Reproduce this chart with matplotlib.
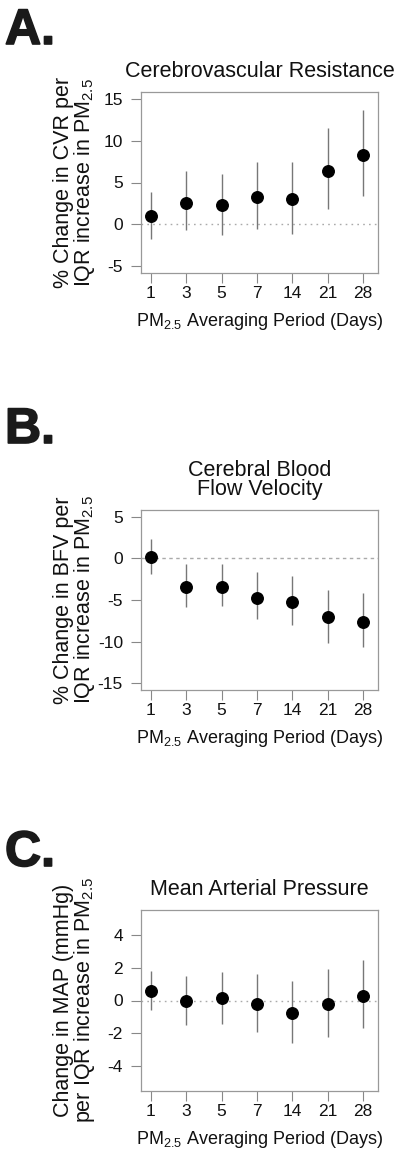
import matplotlib
matplotlib.use("Agg")
import matplotlib.pyplot as plt
import matplotlib.patheffects as pe

plt.rcParams['font.family'] = ['Liberation Sans', 'DejaVu Sans']
plt.rcParams['mathtext.fontset'] = 'custom'
plt.rcParams['mathtext.rm'] = 'Liberation Sans'
plt.rcParams['mathtext.it'] = 'Liberation Sans'

# averaging periods (days), plotted at equal spacing
periods = ['1', '3', '5', '7', '14', '21', '28']

# A. cerebrovascular resistance (% change)
cvr_est = [0.95, 2.6, 2.3, 3.3, 3.0, 6.4, 8.3]
cvr_lo = [-1.8, -0.7, -1.3, -0.5, -1.2, 1.85, 3.4]
cvr_hi = [3.9, 6.35, 6.0, 7.5, 7.5, 11.5, 13.6]

# B. cerebral blood flow velocity (% change)
bfv_est = [0.1, -3.4, -3.4, -4.8, -5.2, -7.1, -7.6]
bfv_lo = [-1.9, -5.8, -5.7, -7.3, -8.0, -10.2, -10.6]
bfv_hi = [2.3, -0.7, -0.7, -1.7, -2.1, -3.8, -4.2]

# C. mean arterial pressure (mmHg)
map_est = [0.6, 0.0, 0.15, -0.2, -0.75, -0.2, 0.3]
map_lo = [-0.6, -1.5, -1.4, -1.9, -2.6, -2.2, -1.7]
map_hi = [1.8, 1.5, 1.75, 1.6, 1.2, 1.9, 2.45]

W, H = 400, 1161
fig = plt.figure(figsize=(W / 100, H / 100), dpi=100)

panels = [
    dict(letter='A.', top=92, bot=273, est=cvr_est, lo=cvr_lo, hi=cvr_hi,
         ylim=(-5.8, 15.8), yticks=[-5, 0, 5, 10, 15],
         title='Cerebrovascular Resistance',
         ylabel='% Change in CVR per\nIQR increase in PM$_{2.5}$',
         letter_y=44, zero_ls=(0, (1.2, 3))),
    dict(letter='B.', top=510, bot=690, est=bfv_est, lo=bfv_lo, hi=bfv_hi,
         ylim=(-15.8, 5.8), yticks=[-15, -10, -5, 0, 5],
         title='Cerebral Blood\nFlow Velocity',
         ylabel='% Change in BFV per\nIQR increase in PM$_{2.5}$',
         letter_y=443, zero_ls=(0, (2.5, 2.5))),
    dict(letter='C.', top=910, bot=1091, est=map_est, lo=map_lo, hi=map_hi,
         ylim=(-5.5, 5.5), yticks=[-4, -2, 0, 2, 4],
         title='Mean Arterial Pressure',
         ylabel='Change in MAP (mmHg)\nper IQR increase in PM$_{2.5}$',
         letter_y=866, zero_ls=(0, (1.2, 3))),
]

left, right = 141, 378
xs = list(range(1, len(periods) + 1))

for p in panels:
    ax = fig.add_axes([left / W, 1 - p['bot'] / H, (right - left) / W,
                       (p['bot'] - p['top']) / H])
    ax.axhline(0, color='#aaaaaa', lw=1.0, linestyle=p['zero_ls'], zorder=1)
    ax.vlines(xs, p['lo'], p['hi'], color='#777777', lw=1.0, zorder=2)
    ax.plot(xs, p['est'], 'o', color='black', markersize=8.3, zorder=3)
    ax.set_xlim(0.72, 7.42)
    ax.set_ylim(*p['ylim'])
    ax.set_yticks(p['yticks'])
    ax.set_yticklabels([str(t) for t in p['yticks']])
    ax.set_xticks(xs)
    ax.set_xticklabels(periods)
    for s in ax.spines.values():
        s.set_color('#999999')
        s.set_linewidth(0.9)
    ax.tick_params(axis='both', length=7, width=0.8, color='#888888',
                   labelsize=12.5, labelcolor='#111111')
    ax.tick_params(axis='y', pad=6)
    ax.tick_params(axis='x', pad=2.5)
    ax.set_title(p['title'], fontsize=15.5, pad=11, color='#111111',
                 linespacing=0.85)
    ax.set_xlabel('PM$_{2.5}$ Averaging Period (Days)', fontsize=13,
                  labelpad=7, color='#111111')
    cy = 1 - (p['top'] + p['bot']) / 2 / H
    fig.text(75 / W, cy, p['ylabel'], rotation=90, ha='center', va='center',
             fontsize=15.5, linespacing=0.9, color='#111111')
    fig.text(5 / W, 1 - p['letter_y'] / H, p['letter'], fontsize=36,
             fontweight='bold', color='#1a1a1a', ha='left', va='baseline',
             path_effects=[pe.withStroke(linewidth=1.2, foreground='#1a1a1a')])

fig.savefig('out.png', dpi=100)
